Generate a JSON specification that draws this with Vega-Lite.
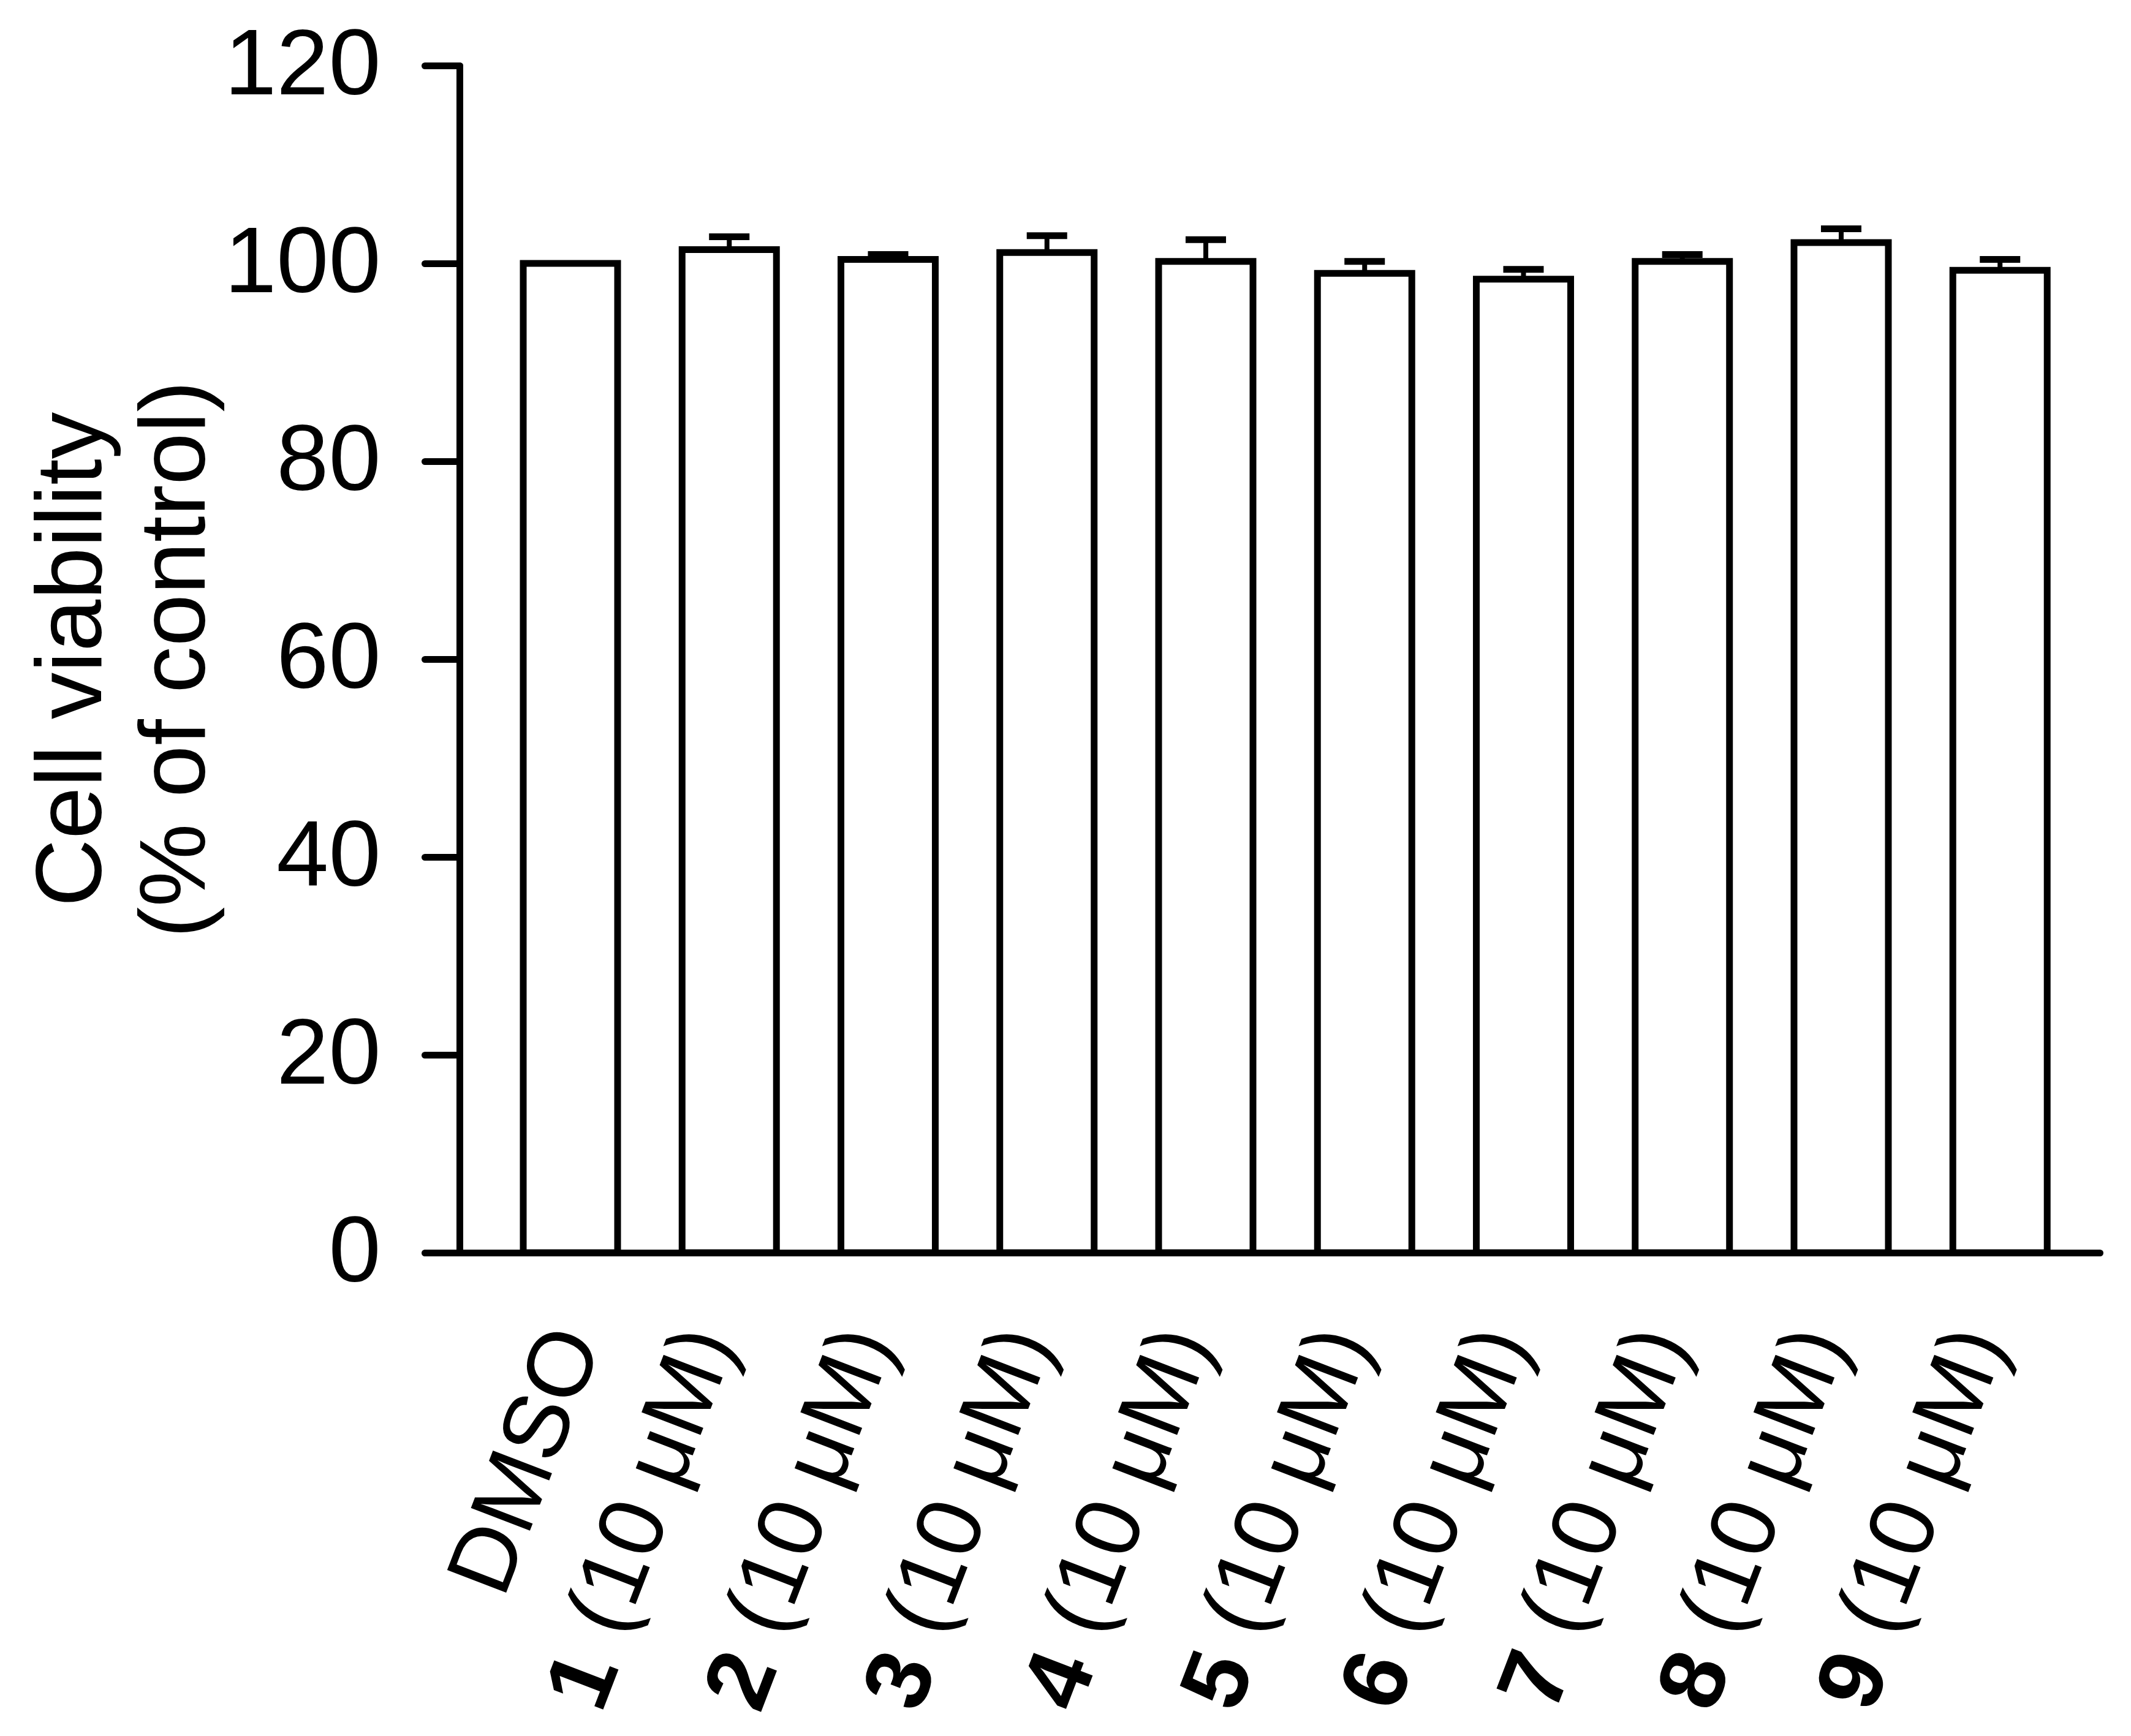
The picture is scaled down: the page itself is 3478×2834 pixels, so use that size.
{
  "$schema": "https://vega.github.io/schema/vega-lite/v6.json",
  "width": 2733,
  "height": 1938,
  "autosize": {"type": "none"},
  "padding": {"left": 694, "top": 107, "right": 51, "bottom": 789},
  "background": "white",
  "config": {"view": {"stroke": null}, "font": "Liberation Sans"},
  "data": {
    "values": [
      {"group": "DMSO", "num": "", "rest": "DMSO", "value": 100.0, "upper": 100.0},
      {"group": "1", "num": "1", "rest": "(10 μM)", "value": 101.4, "upper": 102.7},
      {"group": "2", "num": "2", "rest": "(10 μM)", "value": 100.4, "upper": 100.9},
      {"group": "3", "num": "3", "rest": "(10 μM)", "value": 101.1, "upper": 102.8},
      {"group": "4", "num": "4", "rest": "(10 μM)", "value": 100.2, "upper": 102.4},
      {"group": "5", "num": "5", "rest": "(10 μM)", "value": 99.0, "upper": 100.2},
      {"group": "6", "num": "6", "rest": "(10 μM)", "value": 98.4, "upper": 99.4},
      {"group": "7", "num": "7", "rest": "(10 μM)", "value": 100.2, "upper": 100.9},
      {"group": "8", "num": "8", "rest": "(10 μM)", "value": 102.1, "upper": 103.5},
      {"group": "9", "num": "9", "rest": "(10 μM)", "value": 99.3, "upper": 100.4}
    ]
  },
  "encoding": {
    "x": {
      "field": "group",
      "type": "nominal",
      "sort": null,
      "scale": {"paddingInner": 0.406, "paddingOuter": 0.474, "align": 0.651, "round": false},
      "axis": {"title": null, "labels": false, "ticks": false, "domainColor": "black", "domainWidth": 11, "domainCap": "round"}
    }
  },
  "layer": [
    {
      "mark": {"type": "bar", "fill": "white", "stroke": "black", "strokeWidth": 11},
      "encoding": {
        "y": {
          "field": "value",
          "type": "quantitative",
          "scale": {"domain": [0, 120], "nice": false},
          "axis": {
            "title": ["Cell viability", "(% of control)"],
            "values": [0, 20, 40, 60, 80, 100, 120],
            "grid": false,
            "offset": -56,
            "domainColor": "black",
            "domainWidth": 11,
            "domainCap": "round",
            "tickColor": "black",
            "tickWidth": 11,
            "tickSize": 57,
            "tickCap": "round",
            "labelFontSize": 153,
            "labelColor": "black",
            "labelPadding": 72,
            "labelLimit": 2000,
            "labelFont": "Liberation Sans",
            "titleFontSize": 153,
            "titleFontWeight": "normal",
            "titleColor": "black",
            "titleFont": "Liberation Sans",
            "titleLineHeight": 169,
            "titlePadding": 185,
            "titleLimit": 3000
          }
        }
      }
    },
    {
      "transform": [{"filter": "datum.upper > datum.value"}],
      "mark": {"type": "rule", "strokeWidth": 8, "color": "black"},
      "encoding": {
        "y": {"field": "value", "type": "quantitative"},
        "y2": {"field": "upper"}
      }
    },
    {
      "transform": [{"filter": "datum.upper > datum.value"}],
      "mark": {"type": "tick", "orient": "horizontal", "size": 66, "thickness": 11, "color": "black", "opacity": 1},
      "encoding": {
        "y": {"field": "upper", "type": "quantitative"}
      }
    },
    {
      "transform": [{"filter": "datum.num == ''"}],
      "mark": {"type": "text", "angle": -69, "align": "right", "baseline": "middle", "dx": -118, "dy": 56, "fontSize": 150, "font": "Liberation Sans", "color": "black"},
      "encoding": {
        "y": {"datum": 0},
        "text": {"field": "rest"}
      }
    },
    {
      "transform": [{"filter": "datum.num != ''"}],
      "mark": {"type": "text", "angle": -69, "align": "right", "baseline": "middle", "dx": -132, "dy": 18, "fontSize": 150, "font": "Liberation Sans", "color": "black"},
      "encoding": {
        "y": {"datum": 0},
        "text": {"field": "rest"}
      }
    },
    {
      "transform": [{"filter": "datum.num != ''"}],
      "mark": {"type": "text", "angle": -69, "align": "right", "baseline": "middle", "dx": -696, "dy": 30, "fontSize": 150, "fontWeight": "bold", "font": "Liberation Sans", "color": "black"},
      "encoding": {
        "y": {"datum": 0},
        "text": {"field": "num"}
      }
    }
  ]
}
